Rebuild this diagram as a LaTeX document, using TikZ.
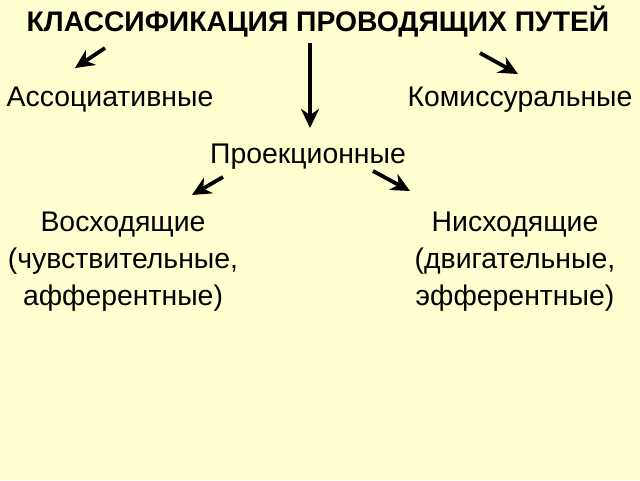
\documentclass[tikz,border=0pt]{standalone}
\usepackage{fontspec}
\setmainfont{Liberation Sans}
\usetikzlibrary{arrows.meta}
\definecolor{paper}{RGB}{255,255,208}
\tikzset{
  heading/.style={font=\bfseries\fontsize{28.3}{32}\selectfont},
  kind/.style={font=\fontsize{28.4}{37}\selectfont, align=center},
  path arrow/.style={line width=3.8pt, -{Stealth[length=19pt,width=18pt,inset=6pt]}}
}
\begin{document}
\begin{tikzpicture}[x=1pt,y=-1pt]
      \fill[paper] (0,0) rectangle (640,480);
      \useasboundingbox (0,0) rectangle (640,480);
      \node[heading] (title) at (318,22) {КЛАССИФИКАЦИЯ ПРОВОДЯЩИХ ПУТЕЙ};
      \node[kind] (assoc) at (110,100) {Ассоциативные};
      \node[kind] (commis) at (520,100) {Комиссуральные};
      \node[kind] (proj) at (308,157) {Проекционные};
      \node[kind] (ascend) at (123,262) {Восходящие\\(чувствительные,\\афферентные)};
      \node[kind] (descend) at (515,262) {Нисходящие\\(двигательные,\\эфферентные)};
      % arrow ends
      \coordinate (a1) at (105,48);
      \coordinate (b1) at (75,68);
      \coordinate (a2) at (480,53);
      \coordinate (b2) at (518,74);
      \coordinate (a3) at (310,43);
      \coordinate (b3) at (310,128);
      \coordinate (a4) at (223,177);
      \coordinate (b4) at (192,195);
      \coordinate (a5) at (373,171);
      \coordinate (b5) at (410,191);
      \begin{scope}[path arrow]
        \draw (a1) to (b1);
        \draw (a2) to (b2);
        \draw (a3) to (b3);
        \draw (a4) to (b4);
        \draw (a5) to (b5);
      \end{scope}
    \end{tikzpicture}
\end{document}
